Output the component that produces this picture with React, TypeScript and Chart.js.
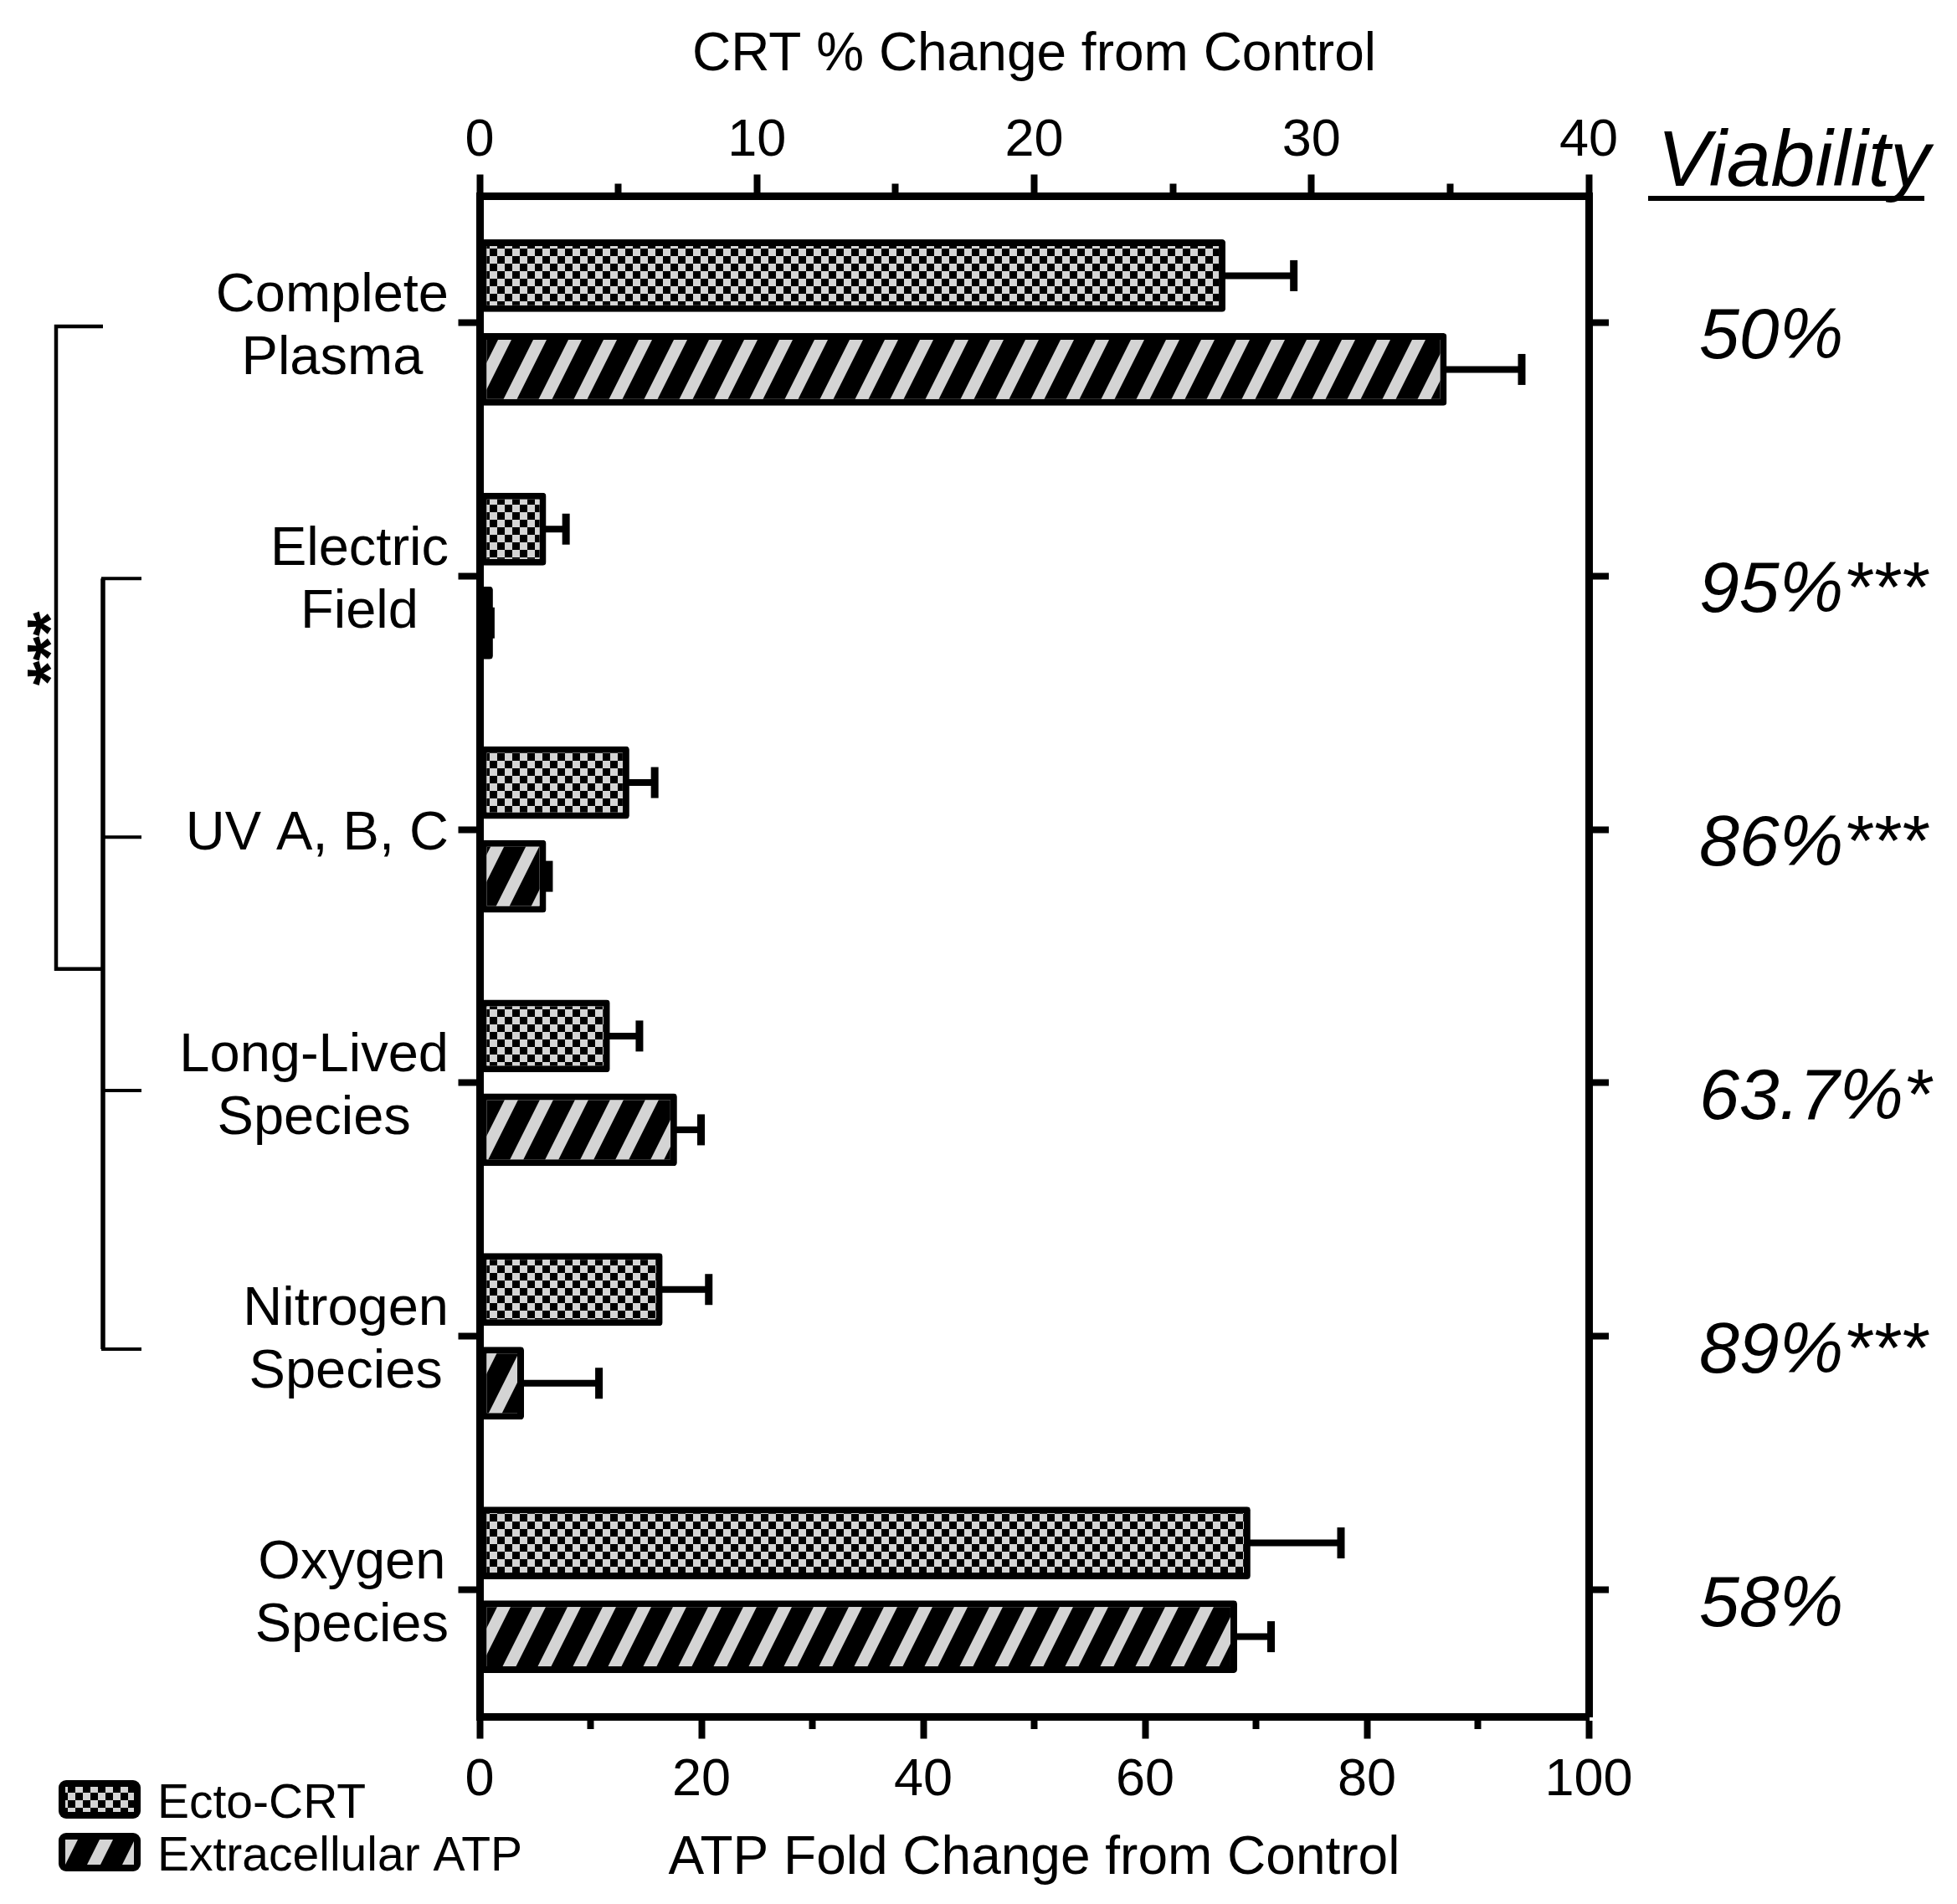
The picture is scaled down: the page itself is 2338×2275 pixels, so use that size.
import React, { useEffect, useRef } from 'react';
import { Chart, registerables } from 'chart.js';

Chart.register(...registerables);

const FONT = '"Liberation Sans", Arial, Helvetica, sans-serif';

// ---- data ----
const categories: string[][] = [
  ['Complete', 'Plasma'],
  ['Electric', 'Field'],
  ['UV A, B, C'],
  ['Long-Lived', 'Species'],
  ['Nitrogen', 'Species'],
  ['Oxygen', 'Species'],
];
const crtValues = [26.9, 2.4, 5.4, 4.7, 6.6, 27.8];
const crtErrors = [2.6, 0.85, 1.05, 1.2, 1.8, 3.4];
const atpValues = [87.2, 1.2, 6.0, 17.8, 4.0, 68.3];
const atpErrors = [7.1, 0.15, 0.6, 2.5, 7.1, 3.4];
const viability = ['50%', '95%***', '86%***', '63.7%*', '89%***', '58%'];
const crtTickLabels = [0, 10, 20, 30, 40];
const atpTickLabels = [0, 20, 40, 60, 80, 100];
const seriesNames = ['Ecto-CRT', 'Extracellular ATP'];

const LIGHT = '#d4d4d4';

function makeChecker(): CanvasPattern {
  const c = document.createElement('canvas');
  c.width = 18;
  c.height = 18;
  const g = c.getContext('2d')!;
  g.fillStyle = LIGHT;
  g.fillRect(0, 0, 18, 18);
  g.fillStyle = '#000';
  g.fillRect(0, 0, 9, 9);
  g.fillRect(9, 9, 9, 9);
  return g.createPattern(c, 'repeat')!;
}

function makeHatch(): CanvasPattern {
  const P = 42, H = 84, w = 16;
  const c = document.createElement('canvas');
  c.width = P;
  c.height = H;
  const g = c.getContext('2d')!;
  g.fillStyle = '#000';
  g.fillRect(0, 0, P, H);
  g.fillStyle = LIGHT;
  for (let k = -2; k <= 1; k++) {
    g.beginPath();
    g.moveTo(k * P, H);
    g.lineTo(k * P + w, H);
    g.lineTo((k + 1) * P + w, 0);
    g.lineTo((k + 1) * P, 0);
    g.closePath();
    g.fill();
  }
  return g.createPattern(c, 'repeat')!;
}

function makeAnnotPlugin(patterns: CanvasPattern[]) {
  return {
    id: 'annot',
    afterDatasetsDraw(chart: any) {
      const ctx: CanvasRenderingContext2D = chart.ctx;
      chart.data.datasets.forEach((ds: any, di: number) => {
        const meta = chart.getDatasetMeta(di);
        const xs = chart.scales[ds.xAxisID];
        meta.data.forEach((bar: any, j: number) => {
          const v = ds.data[j];
          const e = ds.errors[j];
          const x0 = xs.getPixelForValue(v);
          const x1 = xs.getPixelForValue(v + e) - 4.5;
          const y = bar.y;
          ctx.save();
          ctx.strokeStyle = '#000';
          ctx.lineCap = 'butt';
          ctx.lineWidth = 8;
          ctx.beginPath();
          ctx.moveTo(x0 - 2, y);
          ctx.lineTo(x1, y);
          ctx.stroke();
          ctx.lineWidth = 9;
          ctx.beginPath();
          ctx.moveTo(x1, y - 18.5);
          ctx.lineTo(x1, y + 18.5);
          ctx.stroke();
          ctx.restore();
        });
      });
    },
    afterDraw(chart: any) {
      const ctx: CanvasRenderingContext2D = chart.ctx;
      const yScale = chart.scales.y;
      const area = chart.chartArea;
      ctx.save();
      ctx.fillStyle = '#000';
      ctx.strokeStyle = '#000';

      // category labels (each block right aligned, lines centred)
      ctx.font = `65px ${FONT}`;
      ctx.textAlign = 'center';
      ctx.textBaseline = 'middle';
      const rightEdge = yScale.right - 37;
      const lh = 75;
      categories.forEach((lines, i) => {
        const y = yScale.getPixelForTick(i) + 6;
        const widest = Math.max(...lines.map((l) => ctx.measureText(l).width));
        const cx = rightEdge - widest / 2;
        const y0 = y - ((lines.length - 1) * lh) / 2;
        lines.forEach((l, k) => ctx.fillText(l, cx, y0 + k * lh));
      });

      // viability column
      ctx.textAlign = 'left';
      ctx.textBaseline = 'alphabetic';
      ctx.font = `italic 95px ${FONT}`;
      ctx.fillText('Viability', area.right + 82, area.top - 12);
      ctx.fillRect(area.right + 71, area.top, 330, 6);
      ctx.font = `italic 86px ${FONT}`;
      viability.forEach((t, i) => {
        ctx.fillText(t, area.right + 132, yScale.getPixelForTick(i) + 43);
      });

      // significance brackets
      const py = (v: number) => yScale.getPixelForValue(v);
      const outerX = 67, innerX = 123, innerEnd = 169;
      ctx.lineWidth = 4.5;
      ctx.beginPath();
      ctx.moveTo(innerX, py(0.015));
      ctx.lineTo(outerX, py(0.015));
      ctx.lineTo(outerX, py(2.55));
      ctx.lineTo(innerX, py(2.55));
      ctx.stroke();
      ctx.lineWidth = 5.5;
      ctx.beginPath();
      ctx.moveTo(innerX, py(1.01));
      ctx.lineTo(innerX, py(4.05));
      ctx.stroke();
      ctx.lineWidth = 4;
      [1.01, 2.03, 3.03, 4.05].forEach((v) => {
        ctx.beginPath();
        ctx.moveTo(innerX - 2, py(v));
        ctx.lineTo(innerEnd, py(v));
        ctx.stroke();
      });
      ctx.save();
      ctx.translate(64, 775);
      ctx.rotate(-Math.PI / 2);
      ctx.font = `bold 76px ${FONT}`;
      ctx.textAlign = 'center';
      ctx.textBaseline = 'middle';
      ctx.fillText('***', 0, 0);
      ctx.restore();

      // legend
      const boxX = 70, boxW = 98, boxH = 46;
      const boxYs = [2127, 2190];
      const baselines = [2172, 2235];
      ctx.font = `57px ${FONT}`;
      ctx.textAlign = 'left';
      ctx.textBaseline = 'alphabetic';
      seriesNames.forEach((name, i) => {
        const by = boxYs[i];
        ctx.fillStyle = '#000';
        ctx.beginPath();
        (ctx as any).roundRect(boxX, by, boxW, boxH, 9);
        ctx.fill();
        ctx.fillStyle = patterns[i];
        ctx.fillRect(boxX + 8, by + 8, boxW - 16, boxH - 16);
        ctx.fillStyle = '#000';
        ctx.fillText(name, 188, baselines[i]);
      });
      ctx.restore();
    },
  };
}

export default function App() {
  const ref = useRef<HTMLCanvasElement>(null);
  useEffect(() => {
    document.body.style.margin = '0';
    document.body.style.overflow = 'hidden';
    const canvas = ref.current!;
    const checker = makeChecker();
    const hatch = makeHatch();

    const tickFont = { family: FONT, size: 63 };
    const titleFont = { family: FONT, size: 64 };
    const barCommon = {
      borderColor: '#000',
      borderWidth: 8,
      borderSkipped: false,
      borderRadius: 4,
      categoryPercentage: 0.74,
      barPercentage: 0.775,
    };

    const chart = new Chart(canvas, {
      type: 'bar',
      data: {
        labels: categories.map((c) => c.join(' ')),
        datasets: [
          {
            label: seriesNames[0],
            data: crtValues,
            errors: crtErrors,
            xAxisID: 'x2',
            yAxisID: 'y',
            backgroundColor: checker,
            ...barCommon,
          } as any,
          {
            label: seriesNames[1],
            data: atpValues,
            errors: atpErrors,
            xAxisID: 'x',
            yAxisID: 'y',
            backgroundColor: hatch,
            ...barCommon,
          } as any,
        ],
      },
      options: {
        indexAxis: 'y',
        responsive: false,
        animation: false,
        layout: { padding: 0 },
        plugins: {
          legend: { display: false },
          tooltip: { enabled: false },
          title: { display: false },
        },
        scales: {
          y: {
            type: 'category',
            position: 'left',
            offset: true,
            grid: {
              offset: false,
              drawOnChartArea: false,
              tickLength: 25.5,
              tickWidth: 8,
              tickColor: '#000',
            },
            border: { display: true, width: 9, color: '#000' },
            ticks: { display: false },
            afterFit: (s: any) => {
              s.width = 573;
            },
          },
          y2: {
            type: 'category',
            position: 'right',
            offset: true,
            grid: {
              offset: false,
              drawOnChartArea: false,
              tickLength: 24,
              tickWidth: 8,
              tickColor: '#000',
            },
            border: { display: true, width: 9, color: '#000' },
            ticks: { display: false },
            afterFit: (s: any) => {
              s.width = 440;
            },
          },
          x2: {
            type: 'linear',
            position: 'top',
            min: 0,
            max: 40,
            grid: {
              drawOnChartArea: false,
              tickLength: 25.5,
              tickWidth: 8,
              tickColor: '#000',
              tickBorderDash: (c: any) =>
                c.tick && crtTickLabels.indexOf(c.tick.value) === -1 ? [0, 11, 100] : [],
            },
            border: { display: true, width: 9, color: '#000' },
            ticks: {
              stepSize: 5,
              autoSkip: false,
              maxRotation: 0,
              padding: 2,
              color: '#000',
              font: tickFont,
              callback: (v: any) => (crtTickLabels.indexOf(Number(v)) >= 0 ? String(v) : ''),
            },
            title: {
              display: true,
              text: 'CRT % Change from Control',
              color: '#000',
              font: titleFont,
              padding: { top: 28, bottom: 0 },
            },
            afterFit: (s: any) => {
              s.height = 234;
            },
          },
          x: {
            type: 'linear',
            position: 'bottom',
            min: 0,
            max: 100,
            grid: {
              drawOnChartArea: false,
              tickLength: 26.5,
              tickWidth: 8,
              tickColor: '#000',
              tickBorderDash: (c: any) =>
                c.tick && atpTickLabels.indexOf(c.tick.value) === -1 ? [10, 100] : [],
            },
            border: { display: true, width: 9, color: '#000' },
            ticks: {
              stepSize: 10,
              autoSkip: false,
              maxRotation: 0,
              padding: 12,
              color: '#000',
              font: tickFont,
              callback: (v: any) => (atpTickLabels.indexOf(Number(v)) >= 0 ? String(v) : ''),
            },
            title: {
              display: true,
              text: 'ATP Fold Change from Control',
              color: '#000',
              font: titleFont,
              padding: { top: 0, bottom: 15 },
            },
            afterFit: (s: any) => {
              s.height = 224;
            },
          },
        },
      } as any,
      plugins: [makeAnnotPlugin([checker, hatch])],
    });
    return () => chart.destroy();
  }, []);

  return (
    <canvas
      ref={ref}
      width={2338}
      height={2275}
      style={{ display: 'block', width: 2338, height: 2275 }}
    />
  );
}
